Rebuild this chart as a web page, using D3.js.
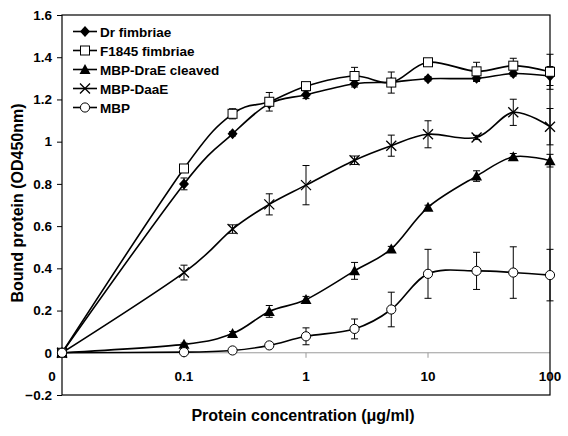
<!DOCTYPE html>
<html>
<head>
<meta charset="utf-8">
<script src="https://cdn.jsdelivr.net/npm/d3@7/dist/d3.min.js"></script>
<style>
html,body{margin:0;padding:0;background:#fff;}
svg{display:block;font-family:"Liberation Sans",Arial,sans-serif;font-weight:bold;}
</style>
</head>
<body>
<svg id="chart" width="568" height="436"></svg>
<script>
// ---- data ----
const concentrations = [0, 0.1, 0.25, 0.5, 1, 2.5, 5, 10, 25, 50, 100];
const seriesNames = ["Dr fimbriae", "F1845 fimbriae", "MBP-DraE cleaved", "MBP-DaaE", "MBP"];
const drFimbriae    = [0, 0.800, 1.037, 1.180, 1.222, 1.274, 1.282, 1.298, 1.300, 1.323, 1.311];
const drFimbriaeErr = [0, 0.028, 0.010, 0.010, 0.018, 0.015, 0.010, 0.010, 0.015, 0.012, 0.045];
const f1845         = [0, 0.873, 1.132, 1.189, 1.263, 1.311, 1.280, 1.376, 1.333, 1.360, 1.331];
const f1845Err      = [0, 0.010, 0.024, 0.044, 0.015, 0.041, 0.050, 0.010, 0.043, 0.035, 0.083];
const draECleaved   = [0, 0.040, 0.091, 0.196, 0.252, 0.388, 0.492, 0.689, 0.837, 0.928, 0.910];
const draECleavedErr= [0, 0.006, 0.010, 0.028, 0.015, 0.040, 0.012, 0.010, 0.025, 0.016, 0.030];
const mbpDaaE       = [0, 0.380, 0.586, 0.703, 0.794, 0.912, 0.981, 1.035, 1.020, 1.139, 1.071];
const mbpDaaEErr    = [0, 0.035, 0.020, 0.050, 0.093, 0.020, 0.050, 0.064, 0.010, 0.062, 0.086];
const mbp           = [0, 0.003, 0.011, 0.035, 0.078, 0.113, 0.205, 0.374, 0.388, 0.380, 0.368];
const mbpErr        = [0, 0.000, 0.005, 0.006, 0.040, 0.047, 0.082, 0.116, 0.088, 0.122, 0.122];
const xTickValues = [0.01, 0.1, 1, 10, 100];
const xTickLabels = ["0", "0.1", "1", "10", "100"];
const yTickValues = [-0.2, 0, 0.2, 0.4, 0.6, 0.8, 1, 1.2, 1.4, 1.6];
const xTitle = "Protein concentration (\u03bcg/ml)";
const yTitle = "Bound protein (OD450nm)";

// ---- layout ----
const L = 62, R = 550, T = 15, B = 395;
const svg = d3.select("#chart");
const xScale = d3.scaleLog().domain([0.01, 100]).range([L, R]);
const x = c => xScale(c === 0 ? 0.01 : c);
const y = d3.scaleLinear().domain([-0.2, 1.6]).range([B, T]);

// zero line (grey) with ticks
svg.append("line").attr("x1", L).attr("x2", R).attr("y1", y(0)).attr("y2", y(0))
  .attr("stroke", "#9a9a9a").attr("stroke-width", 1);
svg.append("g").selectAll("line").data(xTickValues.slice(1, 4)).join("line")
  .attr("x1", d => xScale(d)).attr("x2", d => xScale(d))
  .attr("y1", y(0)).attr("y2", y(0) + 5)
  .attr("stroke", "#9a9a9a").attr("stroke-width", 1);

// y axis
const yAxis = d3.axisLeft(y).tickValues(yTickValues).tickSize(5).tickPadding(5)
  .tickFormat(d => d === 0 ? "0" : (d === 1 ? "1" : d3.format(".1f")(d)));
const gy = svg.append("g").attr("transform", `translate(${L},0)`).call(yAxis);
gy.select(".domain").remove();
gy.selectAll("line").attr("stroke", "#000");
gy.selectAll("text").attr("font-size", 13.5).attr("font-weight", "bold")
  .attr("font-family", "Liberation Sans, Arial, sans-serif").attr("fill", "#000");

// x tick labels
svg.append("g").selectAll("text").data(xTickValues).join("text")
  .attr("x", (d, i) => i === 0 ? 52 : xScale(d))
  .attr("y", 381)
  .attr("text-anchor", "middle")
  .attr("font-size", 13.5)
  .text((d, i) => xTickLabels[i]);

// plot frame
svg.append("rect").attr("x", L).attr("y", T).attr("width", R - L).attr("height", B - T)
  .attr("fill", "none").attr("stroke", "#000").attr("stroke-width", 1.2);

// titles
svg.append("text").attr("x", 303).attr("y", 421).attr("text-anchor", "middle")
  .attr("font-size", 16).text(xTitle);
svg.append("text").attr("transform", "translate(23,203) rotate(-90)")
  .attr("text-anchor", "middle").attr("font-size", 16).text(yTitle);

// markers
function drawMarker(g, type, cx, cy) {
  if (type === "diamond") {
    g.append("path").attr("d", `M${cx},${cy-5.5}L${cx+5},${cy}L${cx},${cy+5.5}L${cx-5},${cy}Z`)
      .attr("fill", "#000");
  } else if (type === "square") {
    g.append("rect").attr("x", cx - 4.5).attr("y", cy - 4.5).attr("width", 9).attr("height", 9)
      .attr("fill", "#fff").attr("stroke", "#000").attr("stroke-width", 1);
  } else if (type === "triangle") {
    g.append("path").attr("d", `M${cx},${cy-5.5}L${cx+5.5},${cy+4.5}L${cx-5.5},${cy+4.5}Z`)
      .attr("fill", "#000");
  } else if (type === "x") {
    g.append("path").attr("d", `M${cx-5},${cy-5}L${cx+5},${cy+5}M${cx-5},${cy+5}L${cx+5},${cy-5}`)
      .attr("stroke", "#000").attr("stroke-width", 1.3).attr("fill", "none");
  } else if (type === "circle") {
    g.append("circle").attr("cx", cx).attr("cy", cy).attr("r", 4.6)
      .attr("fill", "#fff").attr("stroke", "#000").attr("stroke-width", 1);
  }
}

const series = [
  {name: seriesNames[0], values: drFimbriae, err: drFimbriaeErr, marker: "diamond"},
  {name: seriesNames[1], values: f1845, err: f1845Err, marker: "square"},
  {name: seriesNames[2], values: draECleaved, err: draECleavedErr, marker: "triangle"},
  {name: seriesNames[3], values: mbpDaaE, err: mbpDaaEErr, marker: "x"},
  {name: seriesNames[4], values: mbp, err: mbpErr, marker: "circle"}
];

const line = d3.line().x(d => x(d[0])).y(d => y(d[1])).curve(d3.curveCardinal.tension(0));

series.forEach(s => {
  const g = svg.append("g");
  const pts = concentrations.map((c, i) => [c, s.values[i], s.err[i]]);
  // error bars
  pts.forEach(p => {
    if (p[2] > 0.004) {
      const cx = x(p[0]);
      const y1 = y(p[1] + p[2]), y2 = y(p[1] - p[2]);
      g.append("path")
        .attr("d", `M${cx},${y1}L${cx},${y2}M${cx-3.5},${y1}L${cx+3.5},${y1}M${cx-3.5},${y2}L${cx+3.5},${y2}`)
        .attr("stroke", "#000").attr("stroke-width", 1).attr("fill", "none");
    }
  });
  g.append("path").datum(pts).attr("d", line)
    .attr("fill", "none").attr("stroke", "#000").attr("stroke-width", 1.6);
  pts.forEach(p => drawMarker(g, s.marker, x(p[0]), y(p[1])));
});

// legend
const leg = svg.append("g");
series.forEach((s, i) => {
  const ly = 31.5 + i * 19;
  leg.append("line").attr("x1", 73).attr("x2", 97).attr("y1", ly).attr("y2", ly)
    .attr("stroke", "#000").attr("stroke-width", 1.6);
  drawMarker(leg, s.marker, 85, ly);
  leg.append("text").attr("x", 100).attr("y", ly + 5).attr("font-size", 13.5).text(s.name);
});
</script>
</body>
</html>
